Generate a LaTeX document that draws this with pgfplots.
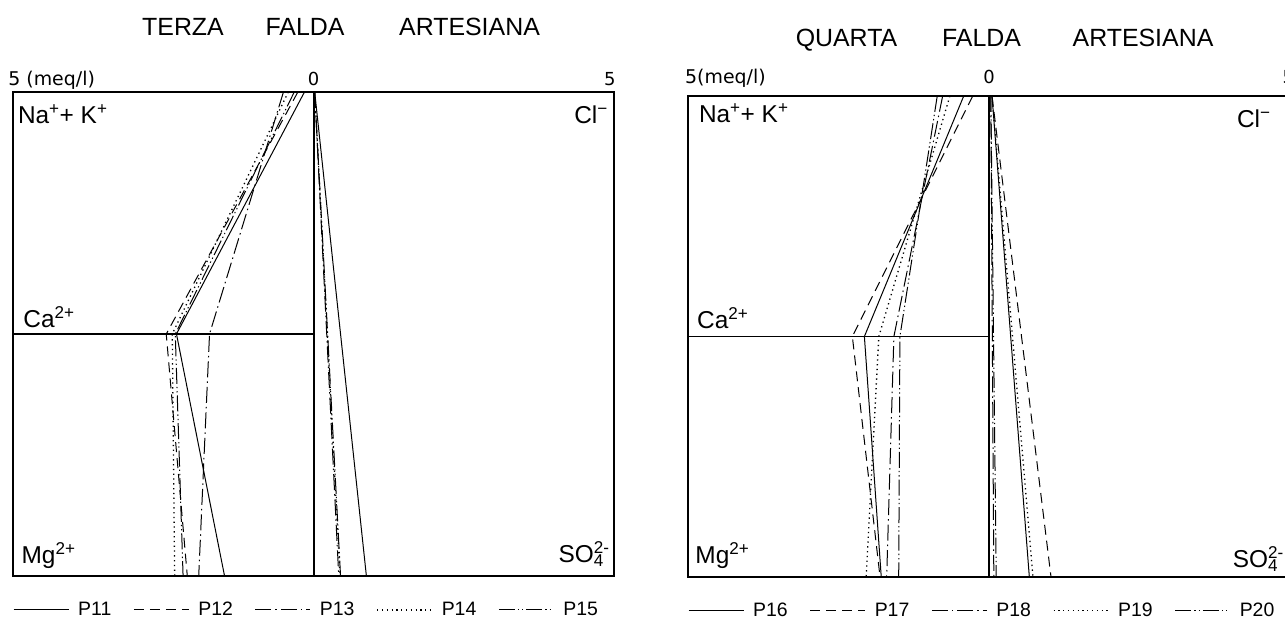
\documentclass[border=0pt]{standalone}
\usepackage{fontspec}
\setmainfont{Liberation Sans}
\newfontfamily\unitfont{DejaVu Sans}
\usepackage{pgfplots}
\pgfplotsset{compat=1.18}
\tikzset{
 sA/.style={line width=1bp},
 sB/.style={line width=1bp, dash pattern=on 10bp off 6bp},
 sC/.style={line width=1bp, dash pattern=on 16bp off 4bp on 1.5bp off 4bp},
 sD/.style={line width=1.3bp, dash pattern=on 1.3bp off 3.5bp},
 sE/.style={line width=1bp, dash pattern=on 16bp off 3bp on 1.3bp off 3bp on 1.3bp off 3bp},
 ttl/.style={font=\fontsize{25}{30}\selectfont, anchor=base, inner sep=0pt},
 lab/.style={font=\fontsize{24.5}{28}\selectfont, inner sep=0pt},
 unit/.style={font=\unitfont\fontsize{19}{21}\selectfont, inner sep=0pt, anchor=base west},
 num/.style={font=\unitfont\fontsize{18}{20}\selectfont, inner sep=0pt, anchor=base},
}
\pgfplotsset{
 stiff/.style={
  scale only axis, xmin=-5, xmax=5, ymin=0, ymax=2,
  xtick=\empty, ytick=\empty, clip=false,
  axis line style={line width=1.4bp},
  legend columns=5,
  legend style={at={(axis description cs:0,-0.07)}, anchor=west, draw=none, fill=none,
    font=\fontsize{19.5}{20}\selectfont, inner sep=0pt,
    nodes={inner sep=3bp},
    /tikz/every odd column/.append style={column sep=6bp},
    /tikz/every even column/.append style={column sep=19bp}},
  legend image code/.code={\draw[##1] (0bp,0bp) -- (55bp,0bp);},
 }
}
\begin{document}
\begin{tikzpicture}
\path[use as bounding box] (0bp,0bp) rectangle (1285bp,623bp);
% titles
\node[ttl] at (183bp,587bp) {TERZA};
\node[ttl] at (305bp,587bp) {FALDA};
\node[ttl] at (469.5bp,587bp) {ARTESIANA};
\node[ttl] at (846.5bp,576bp) {QUARTA};
\node[ttl] at (981.5bp,576bp) {FALDA};
\node[ttl] at (1143bp,576bp) {ARTESIANA};

% ---------------- left panel ----------------
\begin{axis}[stiff, at={(13bp,47bp)}, anchor=south west, width=601bp, height=484bp]
\addplot[line width=2bp, forget plot] coordinates {(0,0) (0,2)};
\addplot[line width=1.2bp, forget plot] coordinates {(-5,1) (0,1)};
% P11
\addplot[sA] coordinates {(-0.15,2) (-2.28,1) (-1.48,0)};
\addlegendentry{P11}
\addplot[sA, forget plot] coordinates {(0.02,2) (0.88,0)};
% P12
\addplot[sB] coordinates {(-0.26,2) (-2.45,1) (-2.10,0)};
\addlegendentry{P12}
\addplot[sB, forget plot] coordinates {(0.0,2) (0.0,0)};
% P13
\addplot[sC] coordinates {(-0.50,2) (-1.73,1) (-1.91,0)};
\addlegendentry{P13}
\addplot[sC, forget plot] coordinates {(0.02,2) (0.42,0)};
% P14
\addplot[sD] coordinates {(-0.42,2) (-2.35,1) (-2.31,0)};
\addlegendentry{P14}
\addplot[sD, forget plot] coordinates {(0.02,2) (0.44,0)};
% P15
\addplot[sE] coordinates {(-0.32,2) (-2.30,1) (-2.17,0)};
\addlegendentry{P15}
\addplot[sE, forget plot] coordinates {(0.02,2) (0.45,0)};

\node[lab, anchor=base west] at (axis cs:-4.92,1.868) {Na\textsuperscript{+}+ K\textsuperscript{+}};
\node[lab, anchor=base east] at (axis cs:4.90,1.868) {Cl\textsuperscript{−}};
\node[lab, anchor=base west] at (axis cs:-4.83,1.025) {Ca\textsuperscript{2+}};
\node[lab, anchor=base west] at (axis cs:-4.86,0.050) {Mg\textsuperscript{2+}};
\node[lab, anchor=base east] at (axis cs:4.93,0.054) {SO\rlap{\textsubscript{4}}\textsuperscript{2-}};
\node[unit] at (axis cs:-5.08,2.025) {5 (meq/l)};
\node[num] at (axis cs:0,2.025) {0};
\node[num] at (axis cs:4.93,2.025) {5};
\end{axis}

% ---------------- right panel ----------------
\begin{axis}[stiff, at={(688bp,46bp)}, anchor=south west, width=602bp, height=481bp]
\addplot[line width=2bp, forget plot] coordinates {(0,0) (0,2)};
\addplot[line width=1.2bp, forget plot] coordinates {(-5,1) (0,1)};
% P16
\addplot[sA] coordinates {(-0.42,2) (-2.07,1) (-1.79,0)};
\addlegendentry{P16}
\addplot[sA, forget plot] coordinates {(0.05,2) (0.67,0)};
% P17
\addplot[sB] coordinates {(-0.27,2) (-2.27,1) (-1.81,0)};
\addlegendentry{P17}
\addplot[sB, forget plot] coordinates {(0.05,2) (1.03,0)};
% P18
\addplot[sC] coordinates {(-0.77,2) (-1.58,1) (-1.70,0)};
\addlegendentry{P18}
\addplot[sC, forget plot] coordinates {(0.03,2) (0.08,0)};
% P19
\addplot[sD] coordinates {(-0.65,2) (-1.83,1) (-2.04,0)};
\addlegendentry{P19}
\addplot[sD, forget plot] coordinates {(0.05,2) (0.73,0)};
% P20
\addplot[sE] coordinates {(-0.86,2) (-1.48,1) (-1.50,0)};
\addlegendentry{P20}
\addplot[sE, forget plot] coordinates {(0.03,2) (0.12,0)};

\node[lab, anchor=base west] at (axis cs:-4.82,1.888) {Na\textsuperscript{+}+ K\textsuperscript{+}};
\node[lab, anchor=base east] at (axis cs:4.68,1.867) {Cl\textsuperscript{−}};
\node[lab, anchor=base west] at (axis cs:-4.85,1.035) {Ca\textsuperscript{2+}};
\node[lab, anchor=base west] at (axis cs:-4.88,0.058) {Mg\textsuperscript{2+}};
\node[lab, anchor=base east] at (axis cs:4.90,0.040) {SO\rlap{\textsubscript{4}}\textsuperscript{2-}};
\node[unit] at (axis cs:-5.05,2.05) {5(meq/l)};
\node[num] at (axis cs:0,2.05) {0};
\node[num] at (axis cs:4.97,2.05) {5};
\end{axis}
\end{tikzpicture}
\end{document}
